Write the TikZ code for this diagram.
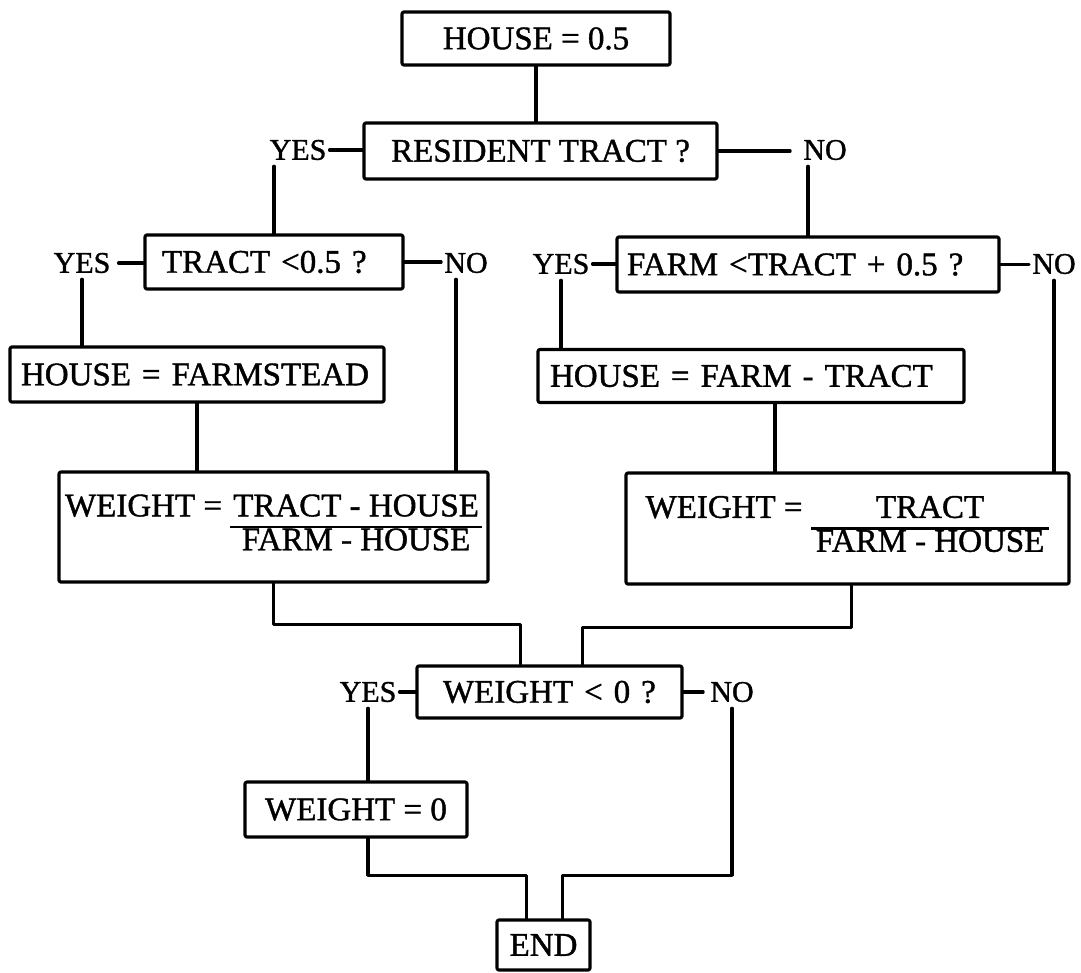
\documentclass[tikz,border=0pt]{standalone}
\usepackage{fontspec}
\setmainfont{Liberation Serif}[FakeBold=1.2]
\setlength{\arrayrulewidth}{2.4pt}
\renewcommand{\arraystretch}{0.9}
\begin{document}
\begin{tikzpicture}[
  x=1pt,
  y=-1pt,
  line cap=round,
  line join=round,
  box/.style={
    draw,
    line width=3.2pt,
    rounded corners=2pt,
    inner sep=0pt,
    font=\fontsize{33}{35}\selectfont
  },
  lbox/.style={
    box,
    align=left,
    inner xsep=#1
  },
  answer/.style={
    inner xsep=3pt,
    inner ysep=6pt,
    font=\fontsize{30}{32}\selectfont
  },
  link/.style={line width=3.2pt}
]
  \useasboundingbox (0,0) rectangle (1081,973);

  % Начало и первый вопрос
  \node[box, minimum width=268pt, minimum height=53pt]
    (start) at (536,38.5) {HOUSE = 0.5};
  \node[box, minimum width=353pt, minimum height=56pt]
    (res) at (540.5,151) {RESIDENT TRACT ?};

  % Левая ветка
  \node[lbox=17pt, text width=224pt, minimum height=54pt]
    (tr) at (274,262) {TRACT <0.5 ?};
  \node[lbox=11pt, text width=352pt, minimum height=55pt]
    (hf) at (197,374.5) {HOUSE = FARMSTEAD};
  \node[box, minimum width=429pt, minimum height=110pt]
    (wl) at (273.5,527)
    {WEIGHT = \begin{tabular}[t]{@{\hspace{3pt}}c@{\hspace{3pt}}}TRACT - HOUSE\\\hline FARM - HOUSE\end{tabular}};

  % Правая ветка
  \node[lbox=10pt, text width=362pt, minimum height=55pt]
    (fb) at (808,264.5) {FARM <TRACT + 0.5 ?};
  \node[lbox=12pt, text width=402pt, minimum height=53pt]
    (ht) at (751,376) {HOUSE = FARM - TRACT};
  \node[box, minimum width=443pt, minimum height=111pt]
    (wr) at (847.5,528.5)
    {WEIGHT = \begin{tabular}[t]{@{\hspace{5pt}}c@{\hspace{5pt}}}TRACT\\\hline FARM - HOUSE\end{tabular}};

  % Проверка веса и конец
  \node[lbox=26pt, text width=213pt, minimum height=52pt]
    (w0) at (549.5,692) {WEIGHT < 0 ?};
  \node[box, minimum width=222pt, minimum height=55pt]
    (wz) at (356,809.5) {WEIGHT = 0};
  \node[box, minimum width=93pt, minimum height=50pt]
    (end) at (543.5,945) {END};

  % Ответы
  \node[answer] (yes1) at (298,150) {YES};
  \node[answer] (no1) at (825,150) {NO};
  \node[answer] (yes2) at (82,263) {YES};
  \node[answer] (no2) at (466,263) {NO};
  \node[answer] (yes3) at (561,264) {YES};
  \node[answer] (no3) at (1054,264) {NO};
  \node[answer] (yes4) at (368,692) {YES};
  \node[answer] (no4) at (732,692) {NO};

  % Линии сверху
  \draw[link]
    (start.south) -- (start.south |- res.north);
  \draw[link]
    (yes1.east) -- (yes1.east -| res.west);
  \draw[link]
    (res.east) -- ([xshift=-10pt]res.east -| no1.west);
  \draw[link]
    (tr.north |- yes1.south) -- (tr.north);
  \draw[link]
    (fb.north |- no1.south) -- (fb.north);

  % Линии левой ветки
  \draw[link]
    ([xshift=5pt]yes2.east) -- (yes2.east -| tr.west);
  \draw[link]
    (tr.east) -- (tr.east -| no2.west);
  \draw[link]
    (yes2.south) -- (yes2.south |- hf.north);
  \draw[link]
    ([xshift=-10pt]no2.south) -- ([xshift=-10pt]no2.south |- wl.north);
  \draw[link]
    (hf.south) -- (hf.south |- wl.north);

  % Линии правой ветки
  \draw[link]
    (yes3.east) -- (yes3.east -| fb.west);
  \draw[link]
    (fb.east) -- (fb.east -| no3.west);
  \draw[link]
    (yes3.south) -- (yes3.south |- ht.north);
  \draw[link]
    (no3.south) -- (no3.south |- wr.north);
  \draw[link]
    ([xshift=24pt]ht.south) -- ([xshift=24pt]ht.south |- wr.north);

  % Слияние веток
  \draw[link]
    (wl.south) -- ++(0,41) -| ([xshift=-29pt]w0.north);
  \draw[link]
    ([xshift=4pt]wr.south) -- ++(0,42) -| ([xshift=33pt]w0.north);

  % Нижняя часть
  \draw[link]
    (yes4.east) -- (yes4.east -| w0.west);
  \draw[link]
    (w0.east) -- ([xshift=-4pt]w0.east -| no4.west);
  \draw[link]
    (yes4.south) -- (yes4.south |- wz.north);
  \draw[link]
    (yes4.south |- wz.south) |- ([xshift=-17pt,yshift=43pt]end.north)
    -- ([xshift=-17pt]end.north);
  \draw[link]
    (no4.south) |- ([xshift=19pt,yshift=43pt]end.north)
    -- ([xshift=19pt]end.north);
\end{tikzpicture}
\end{document}
